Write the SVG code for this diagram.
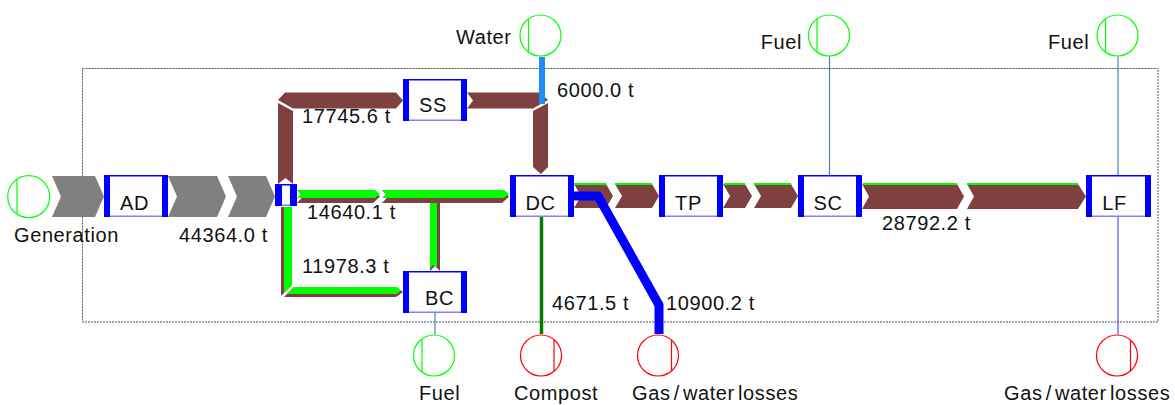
<svg xmlns="http://www.w3.org/2000/svg" width="1175" height="405" viewBox="0 0 1175 405">
<style>
text{font-family:"Liberation Sans",Arial,sans-serif;font-size:20px;fill:#111;letter-spacing:0.6px}
.c{text-anchor:middle}
.e{text-anchor:end}
.ws{word-spacing:-3px}
.gray{fill:#808080}
.br{fill:#7F4040}
.gr{fill:#00FF00}
.src{fill:none;stroke:#00FF00;stroke-width:1.2}
.snk{fill:none;stroke:#FF0000;stroke-width:1.2}
.bx{fill:#fff}
.bt{stroke:#0000FF;stroke-width:1.5}
.bb{stroke:#8080FF;stroke-width:1.5}
.bar{fill:#0000FF}
.thin{fill:none;stroke:#4682B4;stroke-width:1.2}
</style>
<rect x="82.5" y="68.5" width="1075.5" height="253.5" fill="none" stroke="#555" stroke-width="1" stroke-dasharray="2,1"/>
<g id="connectors">
  <polygon class="gray" points="52,176 95,176 104,196.5 95,217 52,217 61,196.5"/>
  <polygon class="gray" points="168,176 217,176 226,196.5 217,217 168,217 177,196.5"/>
  <polygon class="gray" points="228,176 266,176 275,196.5 266,217 228,217 237,196.5"/>
  <polygon class="br" points="278,184 285.5,178 293,184 293,111 278,103"/>
  <polygon class="br" points="278,100 285,92.5 396,92.5 403,100.5 396,108.5 293,108.5"/>
  <polygon class="br" points="467,92.5 540,92.5 548,100 533,108.5 467,108.5 473,100.5"/>
  <polygon class="br" points="548,103 548,167 541,174 533,167 533,111"/>
  <line x1="542" y1="57" x2="542" y2="104" stroke="#1E8CFF" stroke-width="6"/>
  <polygon class="br" points="297,190 373,190 380,196.5 373,203 297,203 303,196.5"/>
  <polygon class="gr" points="297,190 375,190 380,194 375,198 297,198 301,194"/>
  <polygon class="br" points="382,190 502,190 509,196.5 502,203 382,203 388,196.5"/>
  <polygon class="gr" points="382,190 504,190 509,194 504,198 382,198 386,194"/>
  <polygon class="br" points="430,203 440,203 440,271 435,266 430,271"/>
  <polygon class="gr" points="430,203 437,203 437,268 433.5,265 430,268"/>
  <polygon class="br" points="281,207 292,207 292,285 281,296"/>
  <polygon class="gr" points="284,207 292,207 292,285 284,293"/>
  <polygon class="br" points="284,297 294,287 396,287 403,292 396,297"/>
  <polygon class="gr" points="287,294 294,287 397,287 401,290.5 397,294"/>
  <polygon class="br" points="574,184 606,184 613,196 606,208 574,208 581,196"/>
  <polygon class="br" points="615,184 652,184 659,196 652,208 615,208 622,196"/>
  <rect class="gr" x="574" y="183" width="32" height="2"/>
  <rect class="gr" x="615" y="183" width="37" height="2"/>
  <polygon class="br" points="723,184 745,184 752,196 745,208 723,208 730,196"/>
  <polygon class="br" points="754,184 791,184 798,196 791,208 754,208 761,196"/>
  <rect class="gr" x="724" y="183" width="21" height="2"/>
  <rect class="gr" x="754" y="183" width="37" height="2"/>
  <polygon class="br" points="862,184 957,184 964,196.5 957,209 862,209 869,196.5"/>
  <polygon class="br" points="967,184 1078,184 1086,196.5 1078,209 967,209 974,196.5"/>
  <rect class="gr" x="863" y="183" width="94" height="2"/>
  <rect class="gr" x="967" y="183" width="111" height="2"/>
  <polyline points="574,196 598,196 659,305 659,334" fill="none" stroke="#0000FF" stroke-width="9" stroke-linejoin="round"/>
  <line x1="541.5" y1="217" x2="541.5" y2="334" stroke="#008000" stroke-width="3.5"/>
  <line class="thin" x1="435" y1="313" x2="435" y2="334.5"/>
  <line class="thin" x1="829.5" y1="56.5" x2="829.5" y2="175"/>
  <line class="thin" x1="1118" y1="56.5" x2="1118" y2="175"/>
  <line x1="1118" y1="217" x2="1118" y2="334.5" stroke="#5050FF" stroke-width="1.2"/>
</g>
<g id="splitter">
  <rect class="bx" x="275" y="184" width="22" height="22"/>
  <line class="bt" x1="275" y1="184.75" x2="297" y2="184.75"/>
  <line class="bb" x1="275" y1="205.25" x2="297" y2="205.25"/>
  <rect class="bar" x="275" y="184" width="7" height="22"/>
  <rect class="bar" x="290" y="184" width="7" height="22"/>
</g>
<g id="AD">
  <rect class="bx" x="104" y="175" width="64" height="42"/>
  <line class="bt" x1="104" y1="175.75" x2="168" y2="175.75"/>
  <line class="bb" x1="104" y1="216.25" x2="168" y2="216.25"/>
  <rect class="bar" x="104" y="175" width="6" height="42"/>
  <rect class="bar" x="162" y="175" width="6" height="42"/>
  <text class="c" x="134.5" y="210">AD</text>
</g>
<g id="SS">
  <rect class="bx" x="403" y="79" width="64" height="42"/>
  <line class="bt" x1="403" y1="79.75" x2="467" y2="79.75"/>
  <line class="bb" x1="403" y1="120.25" x2="467" y2="120.25"/>
  <rect class="bar" x="403" y="79" width="6" height="42"/>
  <rect class="bar" x="461" y="79" width="6" height="42"/>
  <text class="c" x="433" y="112">SS</text>
</g>
<g id="DC">
  <rect class="bx" x="510" y="175" width="64" height="42"/>
  <line class="bt" x1="510" y1="175.75" x2="574" y2="175.75"/>
  <line class="bb" x1="510" y1="216.25" x2="574" y2="216.25"/>
  <rect class="bar" x="510" y="175" width="6" height="42"/>
  <rect class="bar" x="568" y="175" width="6" height="42"/>
  <text class="c" x="540.5" y="210">DC</text>
</g>
<g id="BC">
  <rect class="bx" x="403" y="271" width="64" height="42"/>
  <line class="bt" x1="403" y1="271.75" x2="467" y2="271.75"/>
  <line class="bb" x1="403" y1="312.25" x2="467" y2="312.25"/>
  <rect class="bar" x="403" y="271" width="6" height="42"/>
  <rect class="bar" x="461" y="271" width="6" height="42"/>
  <text class="c" x="439.5" y="305">BC</text>
</g>
<g id="TP">
  <rect class="bx" x="659" y="175" width="64" height="42"/>
  <line class="bt" x1="659" y1="175.75" x2="723" y2="175.75"/>
  <line class="bb" x1="659" y1="216.25" x2="723" y2="216.25"/>
  <rect class="bar" x="659" y="175" width="6" height="42"/>
  <rect class="bar" x="717" y="175" width="6" height="42"/>
  <text class="c" x="688.5" y="210">TP</text>
</g>
<g id="SC">
  <rect class="bx" x="798" y="175" width="64" height="42"/>
  <line class="bt" x1="798" y1="175.75" x2="862" y2="175.75"/>
  <line class="bb" x1="798" y1="216.25" x2="862" y2="216.25"/>
  <rect class="bar" x="798" y="175" width="6" height="42"/>
  <rect class="bar" x="856" y="175" width="6" height="42"/>
  <text class="c" x="828" y="210">SC</text>
</g>
<g id="LF">
  <rect class="bx" x="1086" y="175" width="65" height="42"/>
  <line class="bt" x1="1086" y1="175.75" x2="1151" y2="175.75"/>
  <line class="bb" x1="1086" y1="216.25" x2="1151" y2="216.25"/>
  <rect class="bar" x="1086" y="175" width="6" height="42"/>
  <rect class="bar" x="1145" y="175" width="6" height="42"/>
  <text class="c" x="1114.5" y="210">LF</text>
</g>
<g id="Generation">
  <circle class="src" cx="28.7" cy="196.7" r="21"/>
  <line class="src" x1="17" y1="179.3" x2="17" y2="214.1"/>
  <text x="14" y="242">Generation</text>
</g>
<g id="Water">
  <circle class="src" cx="540.5" cy="35.5" r="20.5"/>
  <line class="src" x1="528.5" y1="18.9" x2="528.5" y2="52.1"/>
  <text x="456" y="44">Water</text>
</g>
<g id="FuelSC">
  <circle class="src" cx="829" cy="35.5" r="20.5"/>
  <line class="src" x1="817" y1="18.9" x2="817" y2="52.1"/>
  <text class="e" x="802" y="49">Fuel</text>
</g>
<g id="FuelLF">
  <circle class="src" cx="1117.5" cy="35.5" r="20.5"/>
  <line class="src" x1="1105.5" y1="18.9" x2="1105.5" y2="52.1"/>
  <text x="1048" y="49">Fuel</text>
</g>
<g id="FuelBC">
  <circle class="src" cx="434" cy="355.5" r="20.5"/>
  <line class="src" x1="422" y1="338.9" x2="422" y2="372.1"/>
  <text x="419" y="400">Fuel</text>
</g>
<g id="Compost">
  <circle class="snk" cx="541" cy="355.5" r="20.5"/>
  <line class="snk" x1="554" y1="339.8" x2="554" y2="371.2"/>
  <text x="514" y="400">Compost</text>
</g>
<g id="LossesDC">
  <circle class="snk" cx="658" cy="355.5" r="20.5"/>
  <line class="snk" x1="671.5" y1="340.1" x2="671.5" y2="370.9"/>
  <text class="ws" x="632" y="400">Gas / water losses</text>
</g>
<g id="LossesLF">
  <circle class="snk" cx="1117" cy="355.5" r="20.5"/>
  <line class="snk" x1="1130.5" y1="340.1" x2="1130.5" y2="370.9"/>
  <text class="ws" x="1004" y="400">Gas / water losses</text>
</g>
<g id="labels">
  <text x="179" y="242">44364.0 t</text>
  <text x="302" y="123">17745.6 t</text>
  <text x="307" y="219">14640.1 t</text>
  <text x="302" y="273">11978.3 t</text>
  <text x="557" y="97">6000.0 t</text>
  <text x="552" y="310">4671.5 t</text>
  <text x="666" y="310">10900.2 t</text>
  <text x="882" y="230">28792.2 t</text>
</g>
</svg>
